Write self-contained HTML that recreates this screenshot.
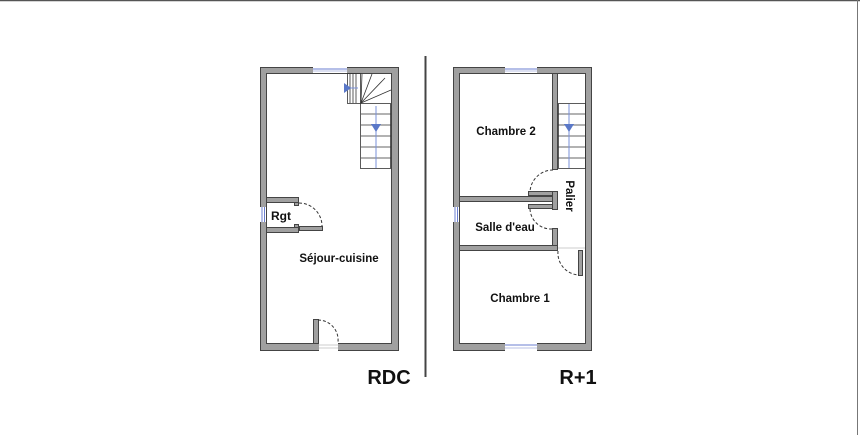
<!DOCTYPE html>
<html><head><meta charset="utf-8"><style>
html,body{margin:0;padding:0;background:#fff;}
svg{display:block;}
text{font-family:"Liberation Sans",sans-serif;font-weight:bold;fill:#111;}
</style></head><body>
<svg width="860" height="435" viewBox="0 0 860 435" xmlns="http://www.w3.org/2000/svg">
<rect x="0" y="0" width="860" height="435" fill="#fff"/>
<line x1="0" y1="0.5" x2="860" y2="0.5" stroke="#555" stroke-width="1.5"/>
<line x1="857.5" y1="0" x2="857.5" y2="435" stroke="#777" stroke-width="1"/>
<g stroke="#444" stroke-width="1" fill="#a0a0a0">
<!-- RDC outer -->
<rect x="260.5" y="67.5" width="138" height="283"/>
</g>
<rect x="266.5" y="73.5" width="125" height="270" fill="#fff" stroke="#444" stroke-width="1"/>
<!-- RDC window top -->
<rect x="313" y="67" width="34" height="6" fill="#fff"/>
<line x1="313" y1="69" x2="347" y2="69" stroke="#6b7fd0" stroke-width="1"/>
<line x1="313" y1="71" x2="347" y2="71" stroke="#b8c0e6" stroke-width="1"/>
<!-- RDC stairs -->
<g stroke="#333" stroke-width="0.8" fill="none">
<rect x="347.5" y="73.5" width="13" height="30"/>
<rect x="360.5" y="103.5" width="30" height="65"/>
<line x1="350" y1="74" x2="350" y2="103"/><line x1="353" y1="74" x2="353" y2="103"/><line x1="356" y1="74" x2="356" y2="103"/>
<line x1="361" y1="103" x2="362" y2="74"/><line x1="361" y1="103" x2="372" y2="74"/><line x1="361" y1="103" x2="385" y2="78"/><line x1="361" y1="103" x2="391" y2="90"/>
<line x1="361" y1="114" x2="391" y2="114"/><line x1="361" y1="125" x2="391" y2="125"/><line x1="361" y1="136" x2="391" y2="136"/><line x1="361" y1="147" x2="391" y2="147"/><line x1="361" y1="158" x2="391" y2="158"/>
</g>
<line x1="376" y1="106" x2="376" y2="168" stroke="#7a90d8" stroke-width="1"/>
<polygon points="371,124 381,124 376,132" fill="#5a78c8"/>
<line x1="344" y1="88" x2="358" y2="88" stroke="#7a90d8" stroke-width="1"/>
<polygon points="344,83 344,93 351,88" fill="#5a78c8"/>
<!-- Rgt -->
<g fill="#a0a0a0" stroke="#444" stroke-width="1">
<rect x="266.5" y="197.5" width="32" height="5"/>
<rect x="266.5" y="227.5" width="32" height="5"/>
<rect x="294.5" y="202.5" width="4" height="3"/>
<rect x="294.5" y="224.5" width="4" height="3"/>
<rect x="299.5" y="226.5" width="23" height="4"/>
</g>
<rect x="260" y="207" width="6" height="15" fill="#fff"/>
<line x1="262" y1="207" x2="262" y2="222" stroke="#6b7fd0"/><line x1="264.5" y1="207" x2="264.5" y2="222" stroke="#6b7fd0"/>
<path d="M299,203 A23,23 0 0 1 322,226" fill="none" stroke="#333" stroke-width="1" stroke-dasharray="3,2"/>
<text x="281" y="220" font-size="12" text-anchor="middle">Rgt</text>
<!-- front door -->
<rect x="319" y="343" width="19" height="8" fill="#fff"/>
<line x1="319" y1="345" x2="338" y2="345" stroke="#ccc"/><line x1="319" y1="348" x2="338" y2="348" stroke="#ccc"/>
<rect x="313.5" y="319.5" width="5" height="24" fill="#a0a0a0" stroke="#444"/>
<path d="M318,320 A20,20 0 0 1 338,342" fill="none" stroke="#333" stroke-dasharray="3,2"/>
<text x="339" y="262" font-size="11.5" text-anchor="middle">Séjour-cuisine</text>

<!-- divider -->
<line x1="425.5" y1="56" x2="425.5" y2="377" stroke="#444" stroke-width="2"/>

<!-- R+1 outer -->
<rect x="453.5" y="67.5" width="138" height="283" fill="#a0a0a0" stroke="#444"/>
<rect x="459.5" y="73.5" width="126" height="270" fill="#fff" stroke="#444"/>
<rect x="505" y="67" width="32" height="6" fill="#fff"/>
<line x1="505" y1="69" x2="537" y2="69" stroke="#6b7fd0"/><line x1="505" y1="71" x2="537" y2="71" stroke="#b8c0e6"/>
<rect x="505" y="343" width="32" height="8" fill="#fff"/>
<line x1="505" y1="345" x2="537" y2="345" stroke="#6b7fd0"/><line x1="505" y1="348" x2="537" y2="348" stroke="#b8c0e6"/>
<rect x="453" y="207" width="6" height="15" fill="#fff"/>
<line x1="455" y1="207" x2="455" y2="222" stroke="#6b7fd0"/><line x1="457.5" y1="207" x2="457.5" y2="222" stroke="#6b7fd0"/>
<g fill="#a0a0a0" stroke="#444">
<rect x="552.5" y="73.5" width="5" height="96"/>
<rect x="459.5" y="196.5" width="93" height="5"/>
<rect x="528.5" y="191.5" width="24" height="4"/>
<rect x="552.5" y="191.5" width="5" height="18"/>
<rect x="528.5" y="204.5" width="24" height="4"/>
<rect x="459.5" y="201.5" width="5" height="0"/>
<rect x="552.5" y="228.5" width="5" height="20"/>
<rect x="459.5" y="245.5" width="98" height="5"/>
<rect x="578.5" y="250.5" width="4" height="25"/>
</g>
<line x1="558" y1="248" x2="585" y2="248" stroke="#ccc"/>
<g stroke="#333" stroke-width="0.8" fill="none">
<rect x="558.5" y="103.5" width="27" height="65"/>
<line x1="558" y1="114" x2="585" y2="114"/><line x1="558" y1="125" x2="585" y2="125"/><line x1="558" y1="136" x2="585" y2="136"/><line x1="558" y1="147" x2="585" y2="147"/><line x1="558" y1="158" x2="585" y2="158"/>
</g>
<line x1="569" y1="104" x2="569" y2="168" stroke="#7a90d8"/>
<polygon points="564,124 574,124 569,132" fill="#5a78c8"/>
<path d="M553,170 A23,23 0 0 0 530,192" fill="none" stroke="#333" stroke-dasharray="3,2"/>
<path d="M530,209 A21,21 0 0 0 552,229" fill="none" stroke="#333" stroke-dasharray="3,2"/>
<path d="M558,251 A22,22 0 0 0 579,275" fill="none" stroke="#333" stroke-dasharray="3,2"/>
<text x="506" y="135" font-size="11.5" text-anchor="middle">Chambre 2</text>
<text x="505" y="231" font-size="11.5" text-anchor="middle">Salle d'eau</text>
<text x="520" y="302" font-size="11.5" text-anchor="middle">Chambre 1</text>
<text transform="translate(566,196) rotate(90)" font-size="11.5" text-anchor="middle">Palier</text>

<text x="389" y="384" font-size="20" text-anchor="middle">RDC</text>
<text x="578" y="384" font-size="20" text-anchor="middle">R+1</text>
</svg>
</body></html>
